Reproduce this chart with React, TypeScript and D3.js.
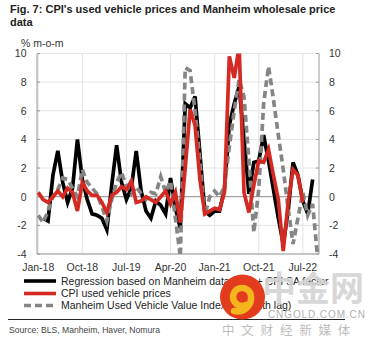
import React from "react";
import * as d3 from "d3";

const W = 375;
const H = 345;

const titleLines = ["Fig. 7: CPI's used vehicle prices and Manheim wholesale price", "data"];
const unitLabel = "% m-o-m";
const yTicks = [10, 8, 6, 4, 2, 0, -2, -4];
const xTickLabels = ["Jan-18", "Oct-18", "Jul-19", "Apr-20", "Jan-21", "Oct-21", "Jul-22"];
const xTickIndex = [0, 9, 18, 27, 36, 45, 54];
const legendLabels = [
  "Regression based on Manheim data (SA) + CPI SA factor",
  "CPI used vehicle prices",
  "Manheim Used Vehicle Value Index (1-month lag)",
];
const sourceText = "Source: BLS, Manheim, Haver, Nomura";

// monthly values starting Jan-18
const regression: (number | null)[] = [
  null, -1.5, -1.7, 1.5, 3.2, 1.0, -0.4, 0.6, 4.0, 1.2,
  -0.2, -1.2, -1.3, -1.5, -2.3, 0.8, 3.6, 1.0, -0.2, 0.6,
  3.2, 0.4, -1.0, -1.5, -0.3, -0.6, -1.2, 1.3, -0.8, -2.2,
  6.5, 6.2, 7.0, 3.0, -1.0, -1.3, -1.0, -1.0, 0.5, 5.0,
  6.5, 7.7, 4.0, 0.2, 2.4, 2.5, 4.3, 2.5, 0.5, -1.5,
  -3.3, -1.0, 2.4, 1.5, -0.3, -1.2, 1.2,
];
const cpiUsed: number[] = [
  0.3, -0.2, -0.4, 0.0, 0.4, 0.0, 0.6, 0.3, -1.0, 1.0,
  0.4, 0.1, 0.1, -0.4, -1.1, 0.1, 0.3, 0.7, 0.5, 1.1,
  -0.4, -0.3, 0.0, -0.2, -0.4, 0.0, 0.4, -0.5, 0.3, -1.8,
  2.0, 6.1, 5.0, 1.2, -1.2, -1.0, -0.8, -0.9, 0.3, 9.8,
  8.3, 10.5, 0.3, -1.1, 0.8, 2.5, 2.4, 3.3, 1.5, -0.2,
  -3.8, -0.4, 1.9, 1.5, -0.4,
];
const manheimLag: number[] = [
  -1.3, -1.8, -1.0, 0.0, 0.5, 1.3, 1.2, 0.6, 0.0, 1.9,
  1.0, 0.6, 0.2, -0.7, -1.7, -0.2, 1.0, 1.7, 0.7, 0.2,
  0.7, 0.2, -0.2, 0.3, 0.2, 1.4, 0.3, 1.1, -1.5, -4.2,
  9.0, 8.8, 6.0, 2.5, -1.3, 0.0, 0.4, 0.0, 0.7, 3.5,
  6.0, 8.2, 7.0, 2.5, -2.5, 0.5, 6.5, 9.1, 6.8, 4.3,
  1.9, -0.8, -3.3, -1.5, 0.3, -1.3, -0.5, -4.2,
];

const FONT = "'Liberation Sans', Arial, sans-serif";

export default function App() {
  const left = 37;
  const right = 319;
  const top = 53.5;
  const bottom = 254;
  const x = d3.scaleLinear().domain([-0.25, 57.3]).range([left, right]);
  const y = d3.scaleLinear().domain([-4, 10]).range([bottom, top]);

  const line = d3
    .line<number | null>()
    .defined((d) => d !== null)
    .x((_, i) => x(i))
    .y((d) => y(d as number));

  const legendY = [281, 293.5, 305.5];
  const legendStyles = [
    { stroke: "#000", dash: undefined },
    { stroke: "#d42a24", dash: undefined },
    { stroke: "#858585", dash: "7,4" },
  ];

  return (
    <svg width={W} height={H} style={{ position: "absolute", left: 0, top: 0, background: "#fff" }} fontFamily={FONT}>
      <defs>
        <clipPath id="plot">
          <rect x={left} y={top} width={right - left} height={bottom - top} />
        </clipPath>
      </defs>
      {titleLines.map((t, i) => (
        <text key={t} x={10} y={13 + i * 13.3} fontSize={11} fontWeight="bold" fill="#222">
          {t}
        </text>
      ))}
      <text x={21} y={47} fontSize={10.5} fill="#333">
        {unitLabel}
      </text>

      {/* grid */}
      {yTicks.map((t) => (
        <line key={"g" + t} x1={left} x2={right} y1={y(t)} y2={y(t)} stroke={t === 0 ? "#8a8a8a" : "#e4e4e4"} strokeWidth={1} />
      ))}
      {xTickIndex.map((t) => (
        <line key={"v" + t} x1={x(t)} x2={x(t)} y1={top} y2={bottom} stroke="#e4e4e4" />
      ))}
      {/* axes */}
      <line x1={left} x2={left} y1={top} y2={bottom} stroke="#9a9a9a" />
      <line x1={right} x2={right} y1={top} y2={bottom} stroke="#9a9a9a" />
      <line x1={left} x2={right} y1={bottom} y2={bottom} stroke="#9a9a9a" />
      {yTicks.map((t) => (
        <g key={"yt" + t}>
          <line x1={left} x2={left + 3} y1={y(t)} y2={y(t)} stroke="#9a9a9a" />
          <line x1={right - 3} x2={right} y1={y(t)} y2={y(t)} stroke="#9a9a9a" />
          <text x={26.5} y={y(t) + 3.8} fontSize={10.5} textAnchor="end" fill="#333">
            {t}
          </text>
          <text x={329} y={y(t) + 3.8} fontSize={10.5} textAnchor="start" fill="#333">
            {t}
          </text>
        </g>
      ))}
      {xTickLabels.map((lab, i) => (
        <text key={lab} x={x(xTickIndex[i])} y={270.5} fontSize={10.5} textAnchor="middle" fill="#333">
          {lab}
        </text>
      ))}

      {/* series */}
      <g clipPath="url(#plot)" fill="none" strokeLinejoin="miter" strokeWidth={3.7}>
        <path d={line(regression) || ""} stroke="#000" />
        <path d={line(manheimLag) || ""} stroke="#858585" strokeDasharray="7,4" />
        <path d={line(cpiUsed) || ""} stroke="#d42a24" />
      </g>

      {/* legend */}
      {legendLabels.map((lab, i) => (
        <g key={lab}>
          <line x1={24} x2={56} y1={legendY[i]} y2={legendY[i]} stroke={legendStyles[i].stroke} strokeWidth={3.6} strokeDasharray={legendStyles[i].dash} />
          <text x={61} y={legendY[i] + 3.8} fontSize={10.5} fill="#222">
            {lab}
          </text>
        </g>
      ))}

      <line x1={8} x2={345} y1={319.5} y2={319.5} stroke="#222" strokeWidth={1} />
      <text x={9} y={332.5} fontSize={8.6} fill="#444">
        {sourceText}
      </text>

      {/* watermark */}
      <g>
        <text x={262} y={301} fontSize={34} fontWeight="bold" fill="#d3d3d3" fontFamily="'Noto Sans CJK SC', sans-serif" opacity={0.9}>
          中金网
        </text>
        <text x={268} y={318} fontSize={10} fill="#b0b0b0" letterSpacing={0.9}>
          CNGOLD.COM.CN
        </text>
        <text x={222} y={335} fontSize={12.5} fill="#bdbdbd" letterSpacing={6.8} fontFamily="'Noto Sans CJK SC', sans-serif">
          中文财经新媒体
        </text>
        <circle cx={242.5} cy={297} r={22.5} fill="#e23b1d" />
        <path d="M 246 305 A 9 9 0 1 1 251 296 C 252 306 244 313 234 311" fill="none" stroke="#f5b51c" strokeWidth={6.5} strokeLinecap="round" />
        <circle cx={242} cy={296} r={3.2} fill="#e23b1d" />
      </g>
    </svg>
  );
}
